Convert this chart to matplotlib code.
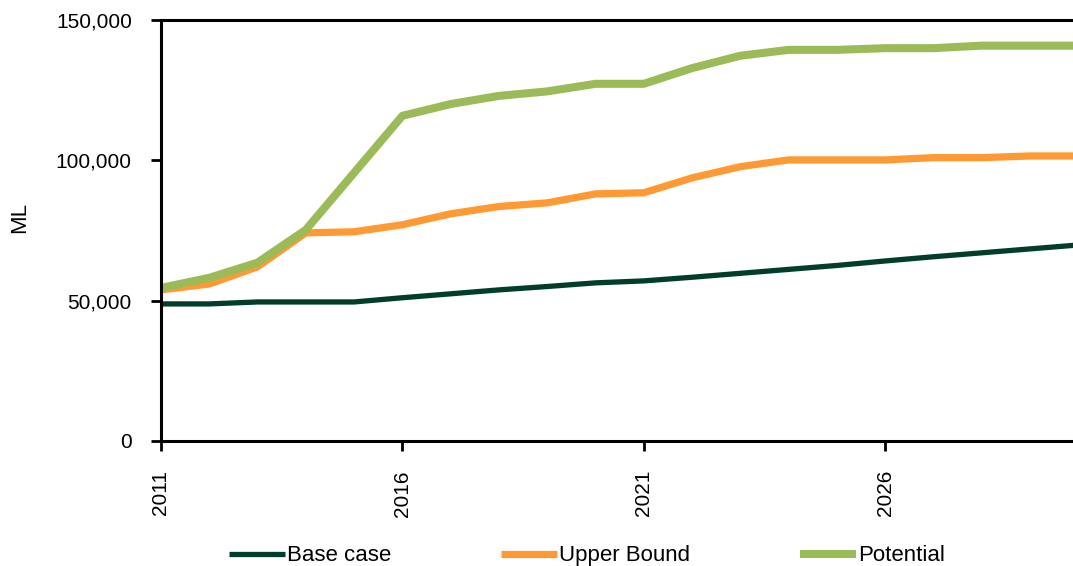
import matplotlib
matplotlib.use("Agg")
import matplotlib.pyplot as plt
from matplotlib.ticker import FuncFormatter

plt.rcParams["font.family"] = ["Liberation Sans", "DejaVu Sans"]

# yearly water volumes (ML) for each scenario
years = list(range(2011, 2031))
base_case = [48800, 48800, 49500, 49500, 49500, 51000, 52400, 53800, 55000, 56300,
             57000, 58300, 59700, 61100, 62500, 64100, 65600, 67000, 68400, 69800]
upper_bound = [53800, 55900, 62000, 74100, 74500, 77000, 80900, 83500, 84800, 88000,
               88400, 93700, 97700, 100100, 100100, 100100, 100900, 100900, 101500, 101500]
potential = [54500, 58100, 63500, 75200, 95500, 115800, 120000, 122900, 124500, 127200,
             127200, 132800, 137200, 139300, 139300, 139900, 139900, 140800, 140800, 140800]

xticks = [2011, 2016, 2021, 2026]
yticks = [0, 50000, 100000, 150000]

fig = plt.figure(figsize=(10.73, 5.66), dpi=100)
ax = fig.add_axes([0.150, 0.221, 0.855, 0.744])

ax.plot(years, base_case, color="#003d2b", lw=3.8, label="Base case", solid_capstyle="butt")
ax.plot(years, upper_bound, color="#ff9933", lw=5.2, label="Upper Bound", solid_capstyle="butt")
ax.plot(years, potential, color="#9bbb59", lw=5.8, label="Potential", solid_capstyle="butt")

ax.set_xlim(2011, 2030)
ax.set_ylim(0, 150000)
ax.set_xticks(xticks)
ax.set_yticks(yticks)
ax.yaxis.set_major_formatter(FuncFormatter(lambda v, p: f"{int(v):,}"))
ax.tick_params(axis="both", direction="out", length=7, width=2, labelsize=15, colors="black")
ax.tick_params(axis="y", pad=14)
ax.tick_params(axis="x", pad=14)
for lab in ax.get_xticklabels():
    lab.set_rotation(90)

ax.spines["right"].set_visible(False)
for s in ["left", "bottom", "top"]:
    ax.spines[s].set_linewidth(2.2)

ax.set_ylabel("ML", fontsize=16)
ax.yaxis.set_label_coords(-0.143, 0.53)

fig.legend(loc="center", bbox_to_anchor=(0.547, 0.018), ncol=3, frameon=False, fontsize=16,
           handlelength=2.5, handletextpad=0.1, columnspacing=4.95)

fig.savefig("out.png", dpi=100)
